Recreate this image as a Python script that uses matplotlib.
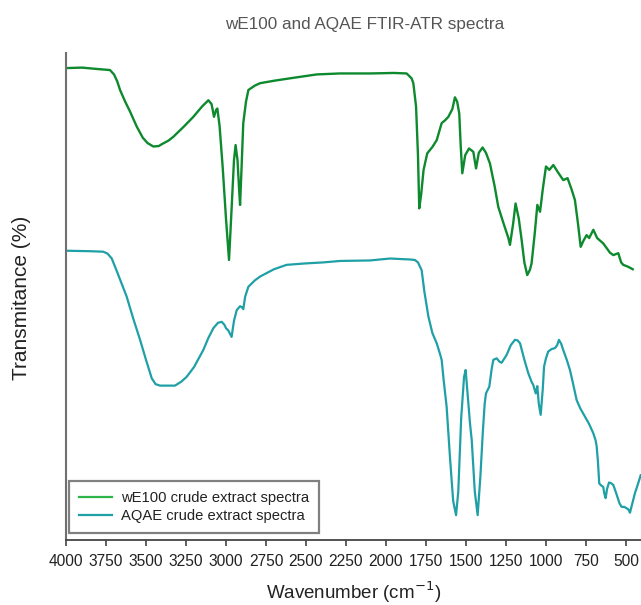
import matplotlib
matplotlib.use("Agg")
import matplotlib.pyplot as plt
from matplotlib.lines import Line2D

plt.rcParams['font.family'] = ['Liberation Sans', 'DejaVu Sans']

# ---- data (wavenumber cm^-1, relative transmittance %) ----
we100_wn = [4000, 3900, 3800, 3725, 3700, 3680, 3662, 3630, 3600, 3558, 3520, 3490, 3454, 3420,
            3400, 3360, 3329, 3260, 3204, 3150, 3110, 3090, 3075, 3062, 3054, 3040, 3021, 3000,
            2981, 2965, 2950, 2940, 2928, 2918, 2912, 2902, 2892, 2875, 2860, 2820, 2787, 2700,
            2600, 2433, 2287, 2100, 1950, 1871, 1840, 1829, 1812, 1800, 1792, 1780, 1765, 1742,
            1710, 1683, 1652, 1630, 1610, 1585, 1569, 1555, 1542, 1533, 1523, 1505, 1481, 1465,
            1454, 1437, 1420, 1396, 1375, 1350, 1320, 1298, 1270, 1252, 1235, 1225, 1205, 1190,
            1170, 1152, 1135, 1117, 1100, 1090, 1070, 1054, 1037, 1020, 1000, 979, 954, 925, 892,
            865, 840, 819, 800, 783, 765, 746, 730, 704, 680, 642, 600, 579, 548, 530, 517, 486,
            458]
we100_t = [96.9, 97.0, 96.7, 96.5, 95.6, 94.2, 92.4, 90.0, 88.0, 84.9, 82.6, 81.5, 80.8, 80.9,
           81.3, 82.0, 82.8, 85.0, 86.9, 89.0, 90.3, 89.5, 86.9, 88.3, 88.6, 85.0, 76.7, 66.0,
           57.5, 68.0, 78.0, 81.1, 78.0, 72.0, 68.8, 77.0, 85.6, 90.0, 92.4, 93.3, 93.8, 94.3,
           94.8, 95.6, 95.8, 95.8, 95.9, 95.8, 94.8, 93.8, 89.0, 79.0, 68.1, 71.0, 76.0, 79.4,
           80.7, 82.1, 85.6, 86.2, 86.9, 88.5, 90.9, 90.0, 87.6, 81.0, 75.3, 79.0, 80.4, 80.0,
           79.7, 76.3, 79.5, 80.6, 79.5, 77.3, 72.5, 68.4, 65.5, 63.7, 62.0, 60.6, 65.0, 69.1,
           66.0, 61.6, 57.0, 54.4, 55.5, 56.8, 63.0, 68.8, 67.4, 72.0, 76.7, 76.0, 77.0, 75.5, 73.9,
           74.3, 72.0, 69.8, 65.0, 60.2, 61.5, 62.6, 62.0, 63.7, 62.0, 60.9, 59.0, 58.5, 58.9, 57.0,
           56.5, 56.1, 55.6]

aqae_wn = [4000, 3850, 3767, 3740, 3714, 3680, 3621, 3580, 3537, 3500, 3464, 3440, 3412, 3360,
           3319, 3280, 3246, 3200, 3142, 3110, 3079, 3050, 3027, 3010, 3000, 2985, 2965, 2950,
           2933, 2912, 2900, 2892, 2880, 2860, 2820, 2787, 2700, 2621, 2500, 2392, 2287, 2100,
           1975, 1912, 1850, 1819, 1800, 1777, 1760, 1735, 1710, 1683, 1665, 1652, 1640, 1621,
           1600, 1580, 1562, 1548, 1530, 1512, 1502, 1490, 1475, 1464, 1445, 1427, 1410, 1395,
           1383, 1375, 1354, 1340, 1329, 1308, 1290, 1277, 1260, 1246, 1220, 1194, 1178, 1162,
           1135, 1110, 1090, 1079, 1064, 1054, 1045, 1033, 1020, 1012, 1000, 986, 965, 944, 930,
           919, 905, 892, 870, 850, 830, 808, 785, 756, 730, 704, 690, 683, 675, 667, 655, 642,
           635, 627, 618, 606, 595, 579, 560, 540, 527, 510, 496, 485, 475, 460, 444, 425, 408]
aqae_t = [59.4, 59.3, 59.2, 58.8, 57.8, 55.0, 50.0, 45.5, 41.1, 37.0, 33.2, 32.0, 31.7, 31.7,
          31.7, 32.5, 33.5, 35.5, 39.0, 41.5, 43.5, 44.6, 44.8, 44.2, 43.5, 43.0, 41.7, 45.0,
          47.2, 48.0, 47.8, 47.4, 50.0, 52.0, 53.3, 54.1, 55.6, 56.5, 56.8, 57.0, 57.3, 57.4,
          57.8, 57.7, 57.6, 57.5, 57.0, 55.4, 51.0, 45.9, 42.5, 40.4, 38.5, 37.0, 33.0, 27.4,
          17.0, 8.0, 5.1, 10.0, 25.0, 33.5, 34.9, 30.0, 24.0, 20.5, 10.0, 5.1, 13.0, 22.0,
          28.0, 30.1, 31.5, 35.0, 37.0, 37.3, 36.6, 36.4, 37.3, 38.0, 40.0, 41.1, 41.0, 40.4,
          37.0, 34.2, 32.5, 31.8, 30.1, 31.6, 28.0, 25.7, 31.0, 35.6, 37.3, 38.7, 39.2, 39.4, 40.0,
          41.1, 40.3, 39.0, 37.0, 34.9, 32.0, 28.7, 27.0, 25.3, 23.8, 21.9, 20.5, 19.2, 16.0, 11.6,
          11.2, 10.9, 9.5, 8.6, 10.5, 11.8, 11.7, 11.3, 9.5, 7.5, 6.8, 6.8, 6.5, 6.3, 5.6, 7.5,
          9.6, 11.5, 13.3]

x_ticks = [4000, 3750, 3500, 3250, 3000, 2750, 2500, 2250, 2000, 1750, 1500, 1250, 1000, 750, 500]
labels = ["wE100 crude extract spectra", "AQAE crude extract spectra"]
title = "wE100 and AQAE FTIR-ATR spectra"

green = "#0e8a2e"
teal = "#1fa0a6"

fig = plt.figure(figsize=(6.41, 6.05), dpi=100)
ax = fig.add_axes([66 / 641, 65 / 605, 575 / 641, 487 / 605])

ax.plot(we100_wn, we100_t, color=green, lw=1.7, solid_joinstyle="round")
ax.plot(aqae_wn, aqae_t, color=teal, lw=1.6, solid_joinstyle="round")

ax.set_xlim(4000, 406)
ax.set_ylim(0, 100)
ax.set_xticks(x_ticks)
ax.set_xticklabels([str(v) for v in x_ticks], fontsize=11.2, color="#222222")
ax.tick_params(axis='x', direction='out', length=4, width=1.2, color="#444444", pad=6)
ax.set_yticks([])
for s in ("top", "right"):
    ax.spines[s].set_visible(False)
ax.spines["left"].set_color("#707070")
ax.spines["left"].set_linewidth(1.5)
ax.spines["bottom"].set_color("#444444")
ax.spines["bottom"].set_linewidth(1.3)

fig.text(354 / 641, 1 - 592 / 605, "Wavenumber (cm$^{-1}$)", ha="center", va="center",
         fontsize=13.5, color="#222222")
fig.text(22 / 641, 1 - 298 / 605, "Transmitance (%)", ha="center", va="center",
         rotation=90, fontsize=15, color="#222222")
fig.text(365 / 641, 1 - 25 / 605, title, ha="center", va="center", fontsize=12.3,
         color="#555555")

handles = [Line2D([], [], color="#2db54a", lw=1.6), Line2D([], [], color=teal, lw=1.6)]
leg = ax.legend(handles, labels, loc="lower left", bbox_to_anchor=(3 / 575, 7 / 487),
                fontsize=10.6, frameon=True, fancybox=False, edgecolor="#606060",
                handlelength=2.3, handletextpad=0.6, labelspacing=0.3,
                borderpad=0.65, borderaxespad=0)
leg.get_frame().set_linewidth(1.6)
for t in leg.get_texts():
    t.set_color("#222222")

fig.savefig("out.png", dpi=100)
